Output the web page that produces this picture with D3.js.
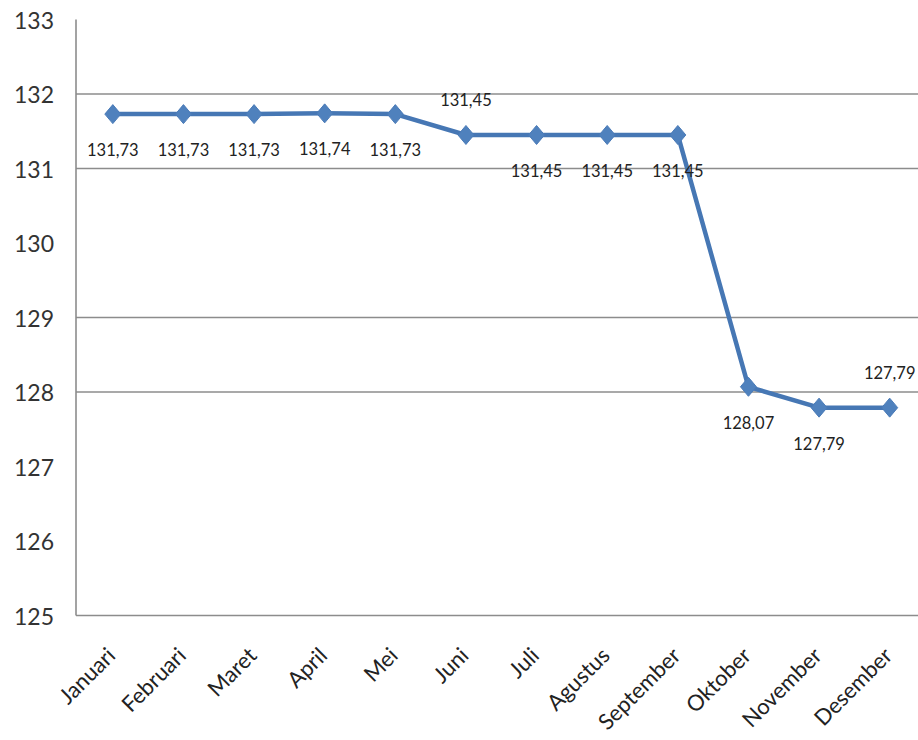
<!DOCTYPE html>
<html>
<head>
<meta charset="utf-8">
<script src="https://cdn.jsdelivr.net/npm/d3@7"></script>
<style>
  html, body { margin: 0; padding: 0; background: #fff; }
  svg { display: block; }
  text { font-family: Lato, "Liberation Sans", sans-serif; }
</style>
</head>
<body>
<div id="chart"></div>
<script>
// Monthly index values
const months = ["Januari", "Februari", "Maret", "April", "Mei", "Juni", "Juli",
                "Agustus", "September", "Oktober", "November", "Desember"];
const values = [131.73, 131.73, 131.73, 131.74, 131.73, 131.45, 131.45,
                131.45, 131.45, 128.07, 127.79, 127.79];
// Which side of its marker each value label sits on
const labelSide = ["below", "below", "below", "below", "below", "above", "below",
                   "below", "below", "below", "below", "above"];
const yTicks = [125, 126, 127, 128, 129, 130, 131, 132, 133];
const gridValues = [132, 131, 129, 128];

const width = 918, height = 740;
const svg = d3.select("#chart").append("svg")
  .attr("width", width).attr("height", height);

const x = d3.scaleBand().domain(months).range([77.5, 925]);
const y = d3.scaleLinear().domain([125, 133]).range([615.5, 19.5]);
const cx = m => x(m) + x.bandwidth() / 2;
const fmt = v => d3.format(".2f")(v).replace(".", ",");

// horizontal gridlines
svg.append("g").selectAll("line").data(gridValues).join("line")
  .attr("x1", 76).attr("x2", width)
  .attr("y1", d => y(d)).attr("y2", d => y(d))
  .attr("stroke", "#8c8c8c").attr("stroke-width", 1.6);

// axis lines
svg.append("line").attr("x1", 76).attr("x2", 76)
  .attr("y1", y(133)).attr("y2", y(125))
  .attr("stroke", "#8c8c8c").attr("stroke-width", 1.6);
svg.append("line").attr("x1", 76).attr("x2", width)
  .attr("y1", y(125)).attr("y2", y(125))
  .attr("stroke", "#8c8c8c").attr("stroke-width", 1.6);

// y tick labels
svg.append("g").selectAll("text").data(yTicks).join("text")
  .attr("x", 54).attr("y", d => y(d))
  .attr("text-anchor", "end").attr("dominant-baseline", "central")
  .attr("font-size", 23).attr("fill", "#333")
  .text(d => d);

// month labels, rotated
svg.append("g").selectAll("text").data(months).join("text")
  .attr("transform", d => `translate(${cx(d) + 4},${657}) rotate(-45)`)
  .attr("text-anchor", "end")
  .attr("font-size", 22).attr("fill", "#222")
  .text(d => d);

// series line
const pts = months.map((m, i) => ({ m, v: values[i], side: labelSide[i] }));
svg.append("path").datum(pts)
  .attr("d", d3.line().x(d => cx(d.m)).y(d => y(d.v)))
  .attr("fill", "none").attr("stroke", "#4677b4").attr("stroke-width", 4.5)
  .attr("stroke-linejoin", "round");

// diamond markers (slightly taller than wide)
const diamond = { draw(ctx) {
  const w = 8, h = 9.5;
  ctx.moveTo(0, -h); ctx.lineTo(w, 0); ctx.lineTo(0, h); ctx.lineTo(-w, 0); ctx.closePath();
} };
svg.append("g").selectAll("path").data(pts).join("path")
  .attr("transform", d => `translate(${cx(d.m)},${y(d.v)})`)
  .attr("d", d3.symbol().type(diamond)())
  .attr("fill", "#4f81bd").attr("stroke", "#4a7bb8").attr("stroke-width", 1);

// value labels
svg.append("g").selectAll("text").data(pts).join("text")
  .attr("x", d => cx(d.m))
  .attr("y", d => y(d.v) + (d.side === "above" ? -35 : 36))
  .attr("text-anchor", "middle").attr("dominant-baseline", "central")
  .attr("font-size", 16.5).attr("fill", "#222")
  .text(d => fmt(d.v));
</script>
</body>
</html>
